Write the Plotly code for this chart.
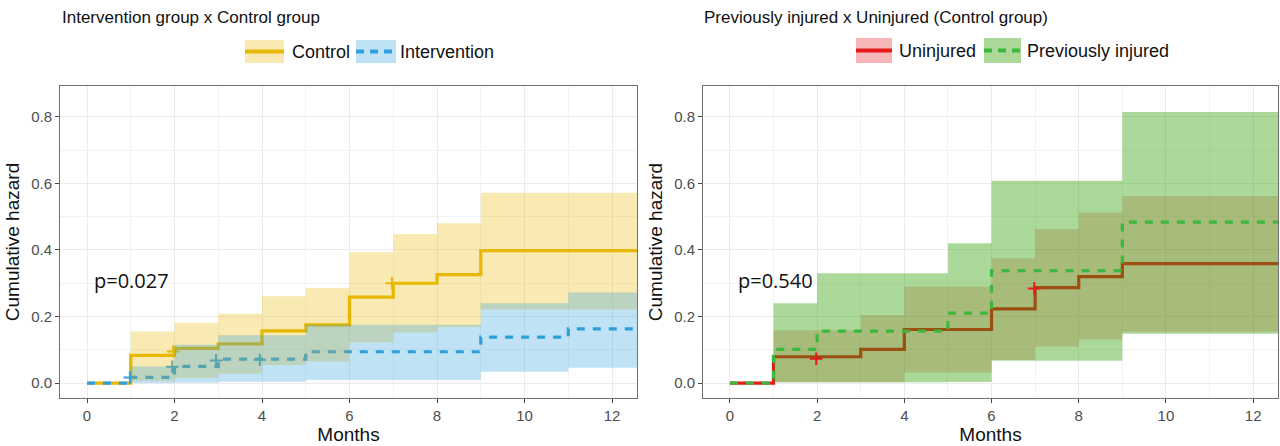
import plotly.graph_objects as go

W, H = 1280, 446

# ---------------- Data ----------------
follow_up_end = 12.6

# Left panel: Intervention group x Control group
ctrl_t = [0, 1, 2, 3, 4, 5, 6, 7, 8, 9]
ctrl_h = [0, 0.083, 0.104, 0.118, 0.157, 0.175, 0.258, 0.300, 0.326, 0.398]
ctrl_hi = [0, 0.155, 0.181, 0.208, 0.261, 0.286, 0.393, 0.448, 0.480, 0.572]
ctrl_lo = [0, 0.007, 0.015, 0.028, 0.054, 0.065, 0.122, 0.152, 0.168, 0.221]
ctrl_cens_t = [1.97, 6.97]
ctrl_cens_h = [0.095, 0.300]

intv_t = [0, 1, 2, 3, 5, 9, 11]
intv_h = [0, 0.017, 0.050, 0.072, 0.094, 0.138, 0.163]
intv_hi = [0, 0.050, 0.115, 0.144, 0.175, 0.240, 0.272]
intv_lo = [0, 0.000, 0.001, 0.004, 0.009, 0.034, 0.046]
intv_cens_t = [0.98, 1.95, 2.95, 3.95]
intv_cens_h = [0.017, 0.049, 0.068, 0.070]

# Right panel: Previously injured x Uninjured (Control group)
uninj_t = [0, 1, 3, 4, 6, 7, 8, 9]
uninj_h = [0, 0.079, 0.101, 0.161, 0.223, 0.287, 0.320, 0.359]
uninj_hi = [0, 0.159, 0.204, 0.290, 0.375, 0.463, 0.513, 0.562]
uninj_lo = [0, 0.002, 0.002, 0.032, 0.069, 0.109, 0.131, 0.154]
uninj_cens_t = [1.98, 6.98]
uninj_cens_h = [0.073, 0.284]

prev_t = [0, 1, 2, 5, 6, 9]
prev_h = [0, 0.101, 0.156, 0.210, 0.338, 0.484]
prev_hi = [0, 0.240, 0.330, 0.420, 0.608, 0.815]
prev_lo = [0, 0.002, 0.002, 0.003, 0.067, 0.148]

p_left = "p=0.027"
p_right = "p=0.540"
x_ticks = [0, 2, 4, 6, 8, 10, 12]
y_ticks = [0.0, 0.2, 0.4, 0.6, 0.8]

# ---------------- Styles ----------------
YEL = "#E7B800"
YEL_F = "rgba(231,184,0,0.30)"
BLU = "#2E9FDF"
BLU_F = "rgba(46,159,223,0.30)"
RED = "#E41A1C"
RED_F = "rgba(228,26,28,0.22)"
GRN = "#3DB83D"
GRN_F = "rgba(45,160,0,0.40)"
FONT = "Liberation Sans, Arial, sans-serif"


def ext(t, v):
    return list(t) + [follow_up_end], list(v) + [v[-1]]


def step_line(t, v, color, dash, xa, ya):
    x, y = ext(t, v)
    return go.Scatter(x=x, y=y, mode="lines", line=dict(color=color, width=3.2, dash=dash, shape="hv"),
                      xaxis=xa, yaxis=ya, showlegend=False, hoverinfo="skip")


def ribbon(t, lo, hi, fillcolor, xa, ya):
    xl, yl = ext(t, lo)
    xh, yh = ext(t, hi)
    return [
        go.Scatter(x=xl, y=yl, mode="lines", line=dict(width=0, shape="hv"), xaxis=xa, yaxis=ya,
                   showlegend=False, hoverinfo="skip"),
        go.Scatter(x=xh, y=yh, mode="lines", line=dict(width=0, shape="hv"), fill="tonexty",
                   fillcolor=fillcolor, xaxis=xa, yaxis=ya, showlegend=False, hoverinfo="skip"),
    ]


def cens(t, v, color, xa, ya):
    return go.Scatter(x=t, y=v, mode="markers",
                      marker=dict(symbol="cross-thin", size=9, line=dict(color=color, width=2)),
                      xaxis=xa, yaxis=ya, showlegend=False, hoverinfo="skip")


fig = go.Figure()
# left panel: lines under ribbons
fig.add_trace(step_line(ctrl_t, ctrl_h, YEL, "solid", "x", "y"))
fig.add_trace(step_line(intv_t, intv_h, BLU, "8px,8px", "x", "y"))
fig.add_trace(cens(ctrl_cens_t, ctrl_cens_h, YEL, "x", "y"))
fig.add_trace(cens(intv_cens_t, intv_cens_h, BLU, "x", "y"))
for tr in ribbon(ctrl_t, ctrl_lo, ctrl_hi, YEL_F, "x", "y"):
    fig.add_trace(tr)
for tr in ribbon(intv_t, intv_lo, intv_hi, BLU_F, "x", "y"):
    fig.add_trace(tr)

# right panel
fig.add_trace(step_line(uninj_t, uninj_h, RED, "solid", "x2", "y2"))
for tr in ribbon(uninj_t, uninj_lo, uninj_hi, RED_F, "x2", "y2"):
    fig.add_trace(tr)
for tr in ribbon(prev_t, prev_lo, prev_hi, GRN_F, "x2", "y2"):
    fig.add_trace(tr)
fig.add_trace(step_line(prev_t, prev_h, GRN, "8px,8px", "x2", "y2"))
fig.add_trace(cens(uninj_cens_t, uninj_cens_h, RED, "x2", "y2"))

# ---------------- Axes ----------------
def px(x):
    return x / W


def py(y):
    return 1 - y / H


ydom = [py(398), py(86)]
xcommon = dict(range=[-0.617, 12.57], tickvals=x_ticks, ticks="outside", ticklen=4, tickcolor="#444",
               showline=True, linecolor="#707070", linewidth=1, mirror=True, zeroline=False,
               showgrid=True, gridcolor="#EBEBEB", gridwidth=1, automargin=False,
               minor=dict(dtick=1, tick0=0, showgrid=True, gridcolor="#F2F2F2", ticks=""),
               tickfont=dict(family=FONT, size=15, color="#4D4D4D"),
               title=dict(text="Months", font=dict(family=FONT, size=19, color="#111"), standoff=4))
ycommon = dict(range=[-0.045, 0.893], tickvals=y_ticks, tickformat=".1f", ticks="outside", ticklen=4,
               tickcolor="#444", showline=True, linecolor="#707070", linewidth=1, mirror=True,
               zeroline=False, showgrid=True, gridcolor="#EBEBEB", gridwidth=1, automargin=False,
               minor=dict(dtick=0.1, tick0=0, showgrid=True, gridcolor="#F2F2F2", ticks=""),
               tickfont=dict(family=FONT, size=15, color="#4D4D4D"),
               title=dict(text="Cumulative hazard", font=dict(family=FONT, size=19, color="#111"), standoff=6))

fig.update_layout(
    width=W, height=H, margin=dict(l=0, r=0, t=0, b=0, autoexpand=False),
    paper_bgcolor="white", plot_bgcolor="white", showlegend=False,
    xaxis=dict(domain=[px(60), px(637)], anchor="y", **xcommon),
    yaxis=dict(domain=ydom, anchor="x", **ycommon),
    xaxis2=dict(domain=[px(703), px(1278)], anchor="y2", **xcommon),
    yaxis2=dict(domain=ydom, anchor="x2", **ycommon),
)

# ---------------- Titles, p-values ----------------
ann = []
ann.append(dict(text="Intervention group x Control group", x=px(60), y=py(17), xref="paper", yref="paper",
                xanchor="left", yanchor="middle", showarrow=False, font=dict(family=FONT, size=17, color="#111")))
ann.append(dict(text="Previously injured x Uninjured (Control group)", x=px(702), y=py(17), xref="paper",
                yref="paper", xanchor="left", yanchor="middle", showarrow=False,
                font=dict(family=FONT, size=17, color="#111")))
ann.append(dict(text=p_left, x=0.12, y=0.307, xref="x", yref="y", xanchor="left", yanchor="middle",
                showarrow=False, font=dict(family="Open Sans, sans-serif", size=20, color="#111")))
ann.append(dict(text=p_right, x=0.15, y=0.307, xref="x2", yref="y2", xanchor="left", yanchor="middle",
                showarrow=False, font=dict(family="Open Sans, sans-serif", size=20, color="#111")))

# ---------------- Manual legends (key = ribbon box + line) ----------------
shapes = []
legend_items = [
    # (x0, x1, y0, y1, fill, line color, dash, label, label_x)
    (245, 284, 40, 63, YEL_F, YEL, "solid", "Control", 290),
    (356, 396, 40, 63, BLU_F, BLU, "8px,6px", "Intervention", 398),
    (856, 892, 38, 63, "rgba(228,26,28,0.32)", RED, "solid", "Uninjured", 897),
    (984, 1021, 38, 63, GRN_F, GRN, "8px,6px", "Previously injured", 1025),
]
for x0, x1, y0, y1, fc, lc, dash, label, lx in legend_items:
    shapes.append(dict(type="rect", xref="paper", yref="paper", x0=px(x0), x1=px(x1), y0=py(y1), y1=py(y0),
                       fillcolor=fc, line=dict(width=0), layer="above"))
    ym = (y0 + y1) / 2
    shapes.append(dict(type="line", xref="paper", yref="paper", x0=px(x0), x1=px(x1), y0=py(ym), y1=py(ym),
                       line=dict(color=lc, width=4, dash=dash), layer="above"))
    ann.append(dict(text=label, x=px(lx), y=py(ym + 0.5), xref="paper", yref="paper", xanchor="left",
                    yanchor="middle", showarrow=False, font=dict(family=FONT, size=18, color="#111")))

fig.update_layout(annotations=ann, shapes=shapes)

# remove the default page margin so the figure sits at the window's top-left corner
fig.write_html("out.html", config={"displayModeBar": False},
               post_script="document.body.style.margin='0';document.body.style.overflow='hidden';")
